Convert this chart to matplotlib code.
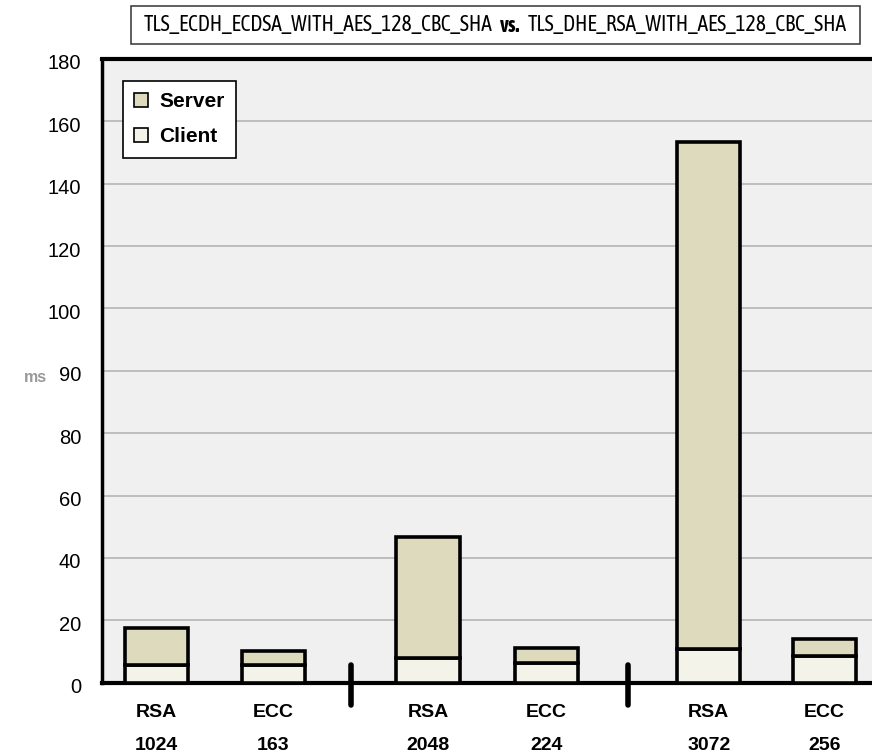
import numpy as np
import matplotlib
matplotlib.use("Agg")
import matplotlib.pyplot as plt
from matplotlib import font_manager as fm
from matplotlib.patches import Patch, Rectangle
from matplotlib.transforms import ScaledTranslation, blended_transform_factory

# ---------------- data ----------------
algorithms = ["RSA", "ECC", "RSA", "ECC", "RSA", "ECC"]
key_sizes = ["1024", "163", "2048", "224", "3072", "256"]
client_ms = [5.6, 5.6, 7.8, 6.4, 10.8, 8.7]
server_ms = [12.1, 4.7, 38.8, 4.6, 142.7, 5.4]
ytick_labels = [0, 20, 40, 60, 80, 90, 100, 120, 140, 160, 180]
title_left = "TLS_ECDH_ECDSA_WITH_AES_128_CBC_SHA"
title_mid = "vs."
title_right = "TLS_DHE_RSA_WITH_AES_128_CBC_SHA"
legend_labels = ["Server", "Client"]
ylabel = "ms"

# ---------------- fonts ----------------
narrow = {}
for f in fm.fontManager.ttflist:
    if "Narrow" in f.name or "Condensed" in f.name:
        try:
            wt = int(f.weight)
        except Exception:
            wt = 700 if "bold" in str(f.weight).lower() else 400
        narrow.setdefault(f.name, set()).add(wt)
cond_reg = None
cond_bold = None
for name, wts in narrow.items():
    if any(w <= 500 for w in wts) and cond_reg is None:
        cond_reg = name
    if any(w >= 600 for w in wts) and any(w <= 500 for w in wts):
        cond_reg = name
        cond_bold = name
        break
if cond_bold is None:
    for name, wts in narrow.items():
        if any(w >= 600 for w in wts):
            cond_bold = name
            break
reg_fam = ["Liberation Sans", "DejaVu Sans"]
cond_fam = [cond_reg, "DejaVu Sans"] if cond_reg else reg_fam
bold_fam = [cond_bold, "DejaVu Sans"] if cond_bold else reg_fam

SERVER_C = "#dedabd"
CLIENT_C = "#f3f3ea"

fig = plt.figure(figsize=(8.72, 7.55), dpi=100)
W, H = 872, 755
ax_l, ax_t, ax_b, ax_r = 102, 59, 682.7, 872
ax = fig.add_axes([ax_l / W, 1 - ax_b / H, (ax_r - ax_l) / W, (ax_b - ax_t) / H])
ax.set_facecolor("#f0f0f0")

# piecewise-linear y scale (ticks are evenly spaced though values are not)
tick_vals = np.array(ytick_labels, dtype=float)
tick_idx = np.arange(len(tick_vals), dtype=float)
def fwd(v):
    return np.interp(v, tick_vals, tick_idx)
def inv(v):
    return np.interp(v, tick_idx, tick_vals)
ax.set_yscale("function", functions=(fwd, inv))
ax.set_ylim(0, 180)

# x layout (unit = bar pitch)
xpos = np.array([0.0, 1.0, 2.32, 3.33, 4.72, 5.71])
seps = [1.66, 4.03]
width = 0.54
client = np.array(client_ms)
server = np.array(server_ms)
ax.bar(xpos, client, width, color=CLIENT_C, edgecolor="black", linewidth=2.6, zorder=3)
ax.bar(xpos, server, width, bottom=client, color=SERVER_C, edgecolor="black", linewidth=2.6, zorder=3)
ax.set_xlim(-0.466, -0.466 + (ax_r - ax_l) / 117.0)

ax.set_yticks(ytick_labels)
ax.set_yticklabels([str(v) for v in ytick_labels], fontsize=14.5, family=reg_fam)
ax.yaxis.set_minor_locator(matplotlib.ticker.NullLocator())
ax.tick_params(axis="y", length=0, pad=15)
for lab in ax.get_yticklabels():
    lab.set_transform(lab.get_transform() + ScaledTranslation(0, -3 / 100, fig.dpi_scale_trans))
ax.grid(axis="y", color="#b0b0b0", linewidth=1.1, zorder=0)
ax.set_axisbelow(True)

ax.set_xticks(xpos)
ax.set_xticklabels([f"{a}\n{k}" for a, k in zip(algorithms, key_sizes)],
                   fontsize=14, fontweight="bold", family=reg_fam, linespacing=2.25)
ax.tick_params(axis="x", length=0, pad=15)

for s in ["top", "bottom"]:
    ax.spines[s].set_linewidth(3)
ax.spines["left"].set_linewidth(2.5)
ax.spines["right"].set_visible(False)

# separators across the baseline
btrans = blended_transform_factory(ax.transData, ax.transAxes)
for sx in seps:
    ax.plot([sx, sx], [-22 / 623.7, 18 / 623.7], transform=btrans, color="black",
            linewidth=4, solid_capstyle="round", clip_on=False, zorder=5)

# legend
handles = [Patch(facecolor=SERVER_C, edgecolor="black", linewidth=1.2),
           Patch(facecolor=CLIENT_C, edgecolor="black", linewidth=1.2)]
leg = ax.legend(handles, legend_labels, loc="upper left",
                bbox_to_anchor=((123 - ax_l) / (ax_r - ax_l), 1 - (81 - ax_t) / (ax_b - ax_t)),
                borderaxespad=0, fancybox=False, framealpha=1, edgecolor="black",
                prop={"family": reg_fam, "weight": "bold", "size": 15},
                handlelength=0.65, handleheight=0.65, handletextpad=0.55,
                labelspacing=0.75, borderpad=0.55)
leg.get_frame().set_linewidth(1.2)
leg.set_zorder(10)

# y label
fig.text(35 / W, 1 - 378 / H, ylabel, color="#999999", fontsize=11.5, fontweight="bold",
         family=reg_fam, ha="center", va="center")

# title box with mixed weights
fig.patches.append(Rectangle((131 / W, 1 - 44 / H), (860 - 131) / W, 38 / H,
                             transform=fig.transFigure, facecolor="white",
                             edgecolor="#333333", linewidth=1.1))
ty = 1 - 25.5 / H
r = fig.canvas.get_renderer()
fs = 12.0
t1 = fig.text(0, ty, title_left, fontsize=fs, family=cond_fam, va="center", ha="left")
t2 = fig.text(0, ty, title_mid, fontsize=fs, family=bold_fam, fontweight="bold", va="center", ha="left")
t3 = fig.text(0, ty, title_right, fontsize=fs, family=cond_fam, va="center", ha="left")
target = 703.0
for _ in range(4):
    fig.canvas.draw()
    w1, w2, w3 = (t.get_window_extent(r).width for t in (t1, t2, t3))
    gap = 0.5 * fs
    total = w1 + w2 + w3 + 2 * gap
    fs = fs * target / total
    for t in (t1, t2, t3):
        t.set_fontsize(fs)
fig.canvas.draw()
w1, w2, w3 = (t.get_window_extent(r).width for t in (t1, t2, t3))
gap = 0.5 * fs
total = w1 + w2 + w3 + 2 * gap
x0 = (131 + 860) / 2 - total / 2
t1.set_x(x0 / W)
t2.set_x((x0 + w1 + gap) / W)
t3.set_x((x0 + w1 + gap + w2 + gap) / W)

fig.savefig("out.png", dpi=100)
